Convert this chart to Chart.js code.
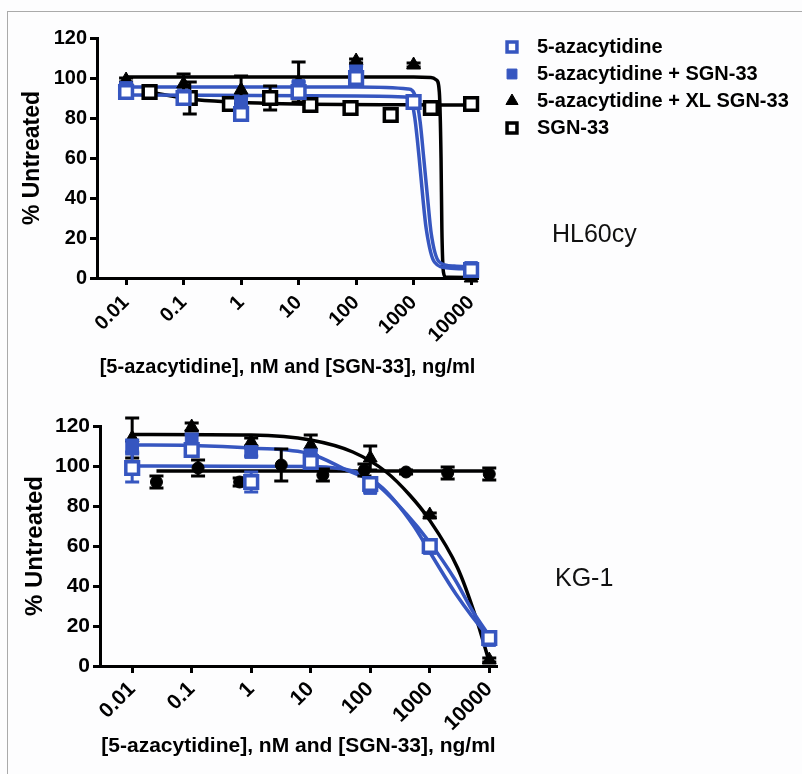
<!DOCTYPE html>
<html>
<head>
<meta charset="utf-8">
<script src="https://cdn.jsdelivr.net/npm/chart.js@4.4.1/dist/chart.umd.min.js"></script>
<style>
  html, body { margin: 0; padding: 0; background: #fdfdfe; }
  #page { position: relative; width: 802px; height: 774px; overflow: hidden; }
  #frame { position: absolute; left: 7px; top: 11px; width: 800px; height: 770px;
           border-top: 1px solid #aaa; border-left: 1px solid #aaa; }
  canvas { position: absolute; left: 0; }
  #hlChart { top: 12px; }
  #kgChart { top: 385px; }
</style>
</head>
<body>
<div id="page">
  <div id="frame"></div>
  <canvas id="hlChart" width="802" height="373"></canvas>
  <canvas id="kgChart" width="802" height="389"></canvas>
</div>
<script>
  const BLUE = '#3656c0';
  const FONT = '"Liberation Sans", Arial, Helvetica, sans-serif';

  // x axis (log) ticks
  const xTickValues = [0.01, 0.1, 1, 10, 100, 1000, 10000];
  const xTickLabels = ['0.01', '0.1', '1', '10', '100', '1000', '10000'];

  // doses
  const azaDose = [0.01, 0.1, 1, 10, 100, 1000, 10000];
  const sgnDose = [0.0256, 0.128, 0.64, 3.2, 16, 80, 400, 2000, 10000];

  // HL60cy measured points
  const hlAza = [93, 90, 82, 93, 100, 88, 4];
  const hlAzaErr = [2, 2, 2, 3, 3, 2, 1];
  const hlAzaSgn = [95, 91, 88, 96, 103, 88, 5];
  const hlAzaSgnErr = [2, 2, 2, 2, 3, 2, 1];
  const hlAzaXl = [99, 97, 94, 98, 108.5, 106.5, 0];
  const hlAzaXlErr = [1, 5, 7, 10, 1, 1, 0];
  const hlSgn = [93, 90, 87, 90, 86.5, 85, 81.5, 85, 87];
  const hlSgnErr = [1, 8, 2, 6, 2, 3, 3, 2, 1];

  // HL60cy fitted curves
  const hlFitAzaX = [0.01, 100, 700, 900, 1050, 1250, 1450, 1650, 2300, 4000, 10000];
  const hlFitAzaY = [91.5, 91, 90.5, 89, 80, 60, 40, 25, 8, 5, 4.5];
  const hlFitAzaSgnX = [0.01, 100, 800, 1100, 1300, 1500, 1750, 2030, 2800, 5100, 10000];
  const hlFitAzaSgnY = [95.5, 95.5, 94.5, 90, 78, 60, 40, 22, 8, 6, 5.5];
  const hlFitXlX = [0.01, 1000, 2000, 2500, 2800, 3000, 3100, 3300, 3600, 10000];
  const hlFitXlY = [100.5, 100.5, 100.3, 99, 93, 60, 25, 3, 0.5, 0.3];
  const hlFitSgnX = [0.0256, 0.128, 0.64, 3.2, 10000];
  const hlFitSgnY = [93, 89.5, 88, 87.3, 86.5];

  // KG-1 measured points
  const kgAza = [99, 108, 92, 102, 91, 60, 14];
  const kgAzaErr = [7, 3, 5, 3, 2, 2, 2];
  const kgAzaSgn = [110, 113, 107, 105, 89, 59, 13];
  const kgAzaSgnErr = [3, 3, 2, 3, 2, 2, 2];
  const kgAzaXl = [114, 119.5, 112, 110.5, 104, 75.5, 3];
  const kgAzaXlErr = [10, 2, 2, 5, 6, 1, 1];
  const kgSgn = [92, 99, 92, 100.5, 95.5, 98, 97, 96.5, 96];
  const kgSgnErr = [3, 4, 2, 8, 3, 3, 1, 3, 3];

  // KG-1 fitted curves
  const kgFitAzaX = [0.01, 10, 30, 66, 162, 525, 1000, 2750, 8900, 10000];
  const kgFitAzaY = [100, 99.8, 98.8, 96.3, 89, 70.5, 57, 36, 16, 14.5];
  const kgFitAzaSgnX = [0.01, 0.1, 1, 10, 40, 126, 405, 930, 2620, 5250, 10000];
  const kgFitAzaSgnY = [110.5, 110.3, 109, 106, 98, 91, 76, 63, 43.5, 27.5, 15];
  const kgFitXlX = [0.01, 1, 10, 51, 186, 460, 940, 2940, 6000, 10000];
  const kgFitXlY = [115.8, 115.5, 113, 107, 97, 85.5, 74, 49, 24, 2];
  const kgFitSgnX = [0.0256, 10000];
  const kgFitSgnY = [97.5, 97.5];

  function toPoints(xs, ys) {
    return xs.map((x, i) => ({ x: x, y: ys[i] }));
  }

  function pointSet(label, xs, ys, errs, style, inLegend) {
    return Object.assign({
      label: label,
      data: toPoints(xs, ys),
      errors: errs,
      showLine: false,
      clip: false,
      order: 1,
      inLegend: inLegend
    }, style);
  }

  function curveSet(xs, ys, color) {
    return {
      data: toPoints(xs, ys),
      showLine: true,
      pointRadius: 0,
      borderColor: color,
      borderWidth: 3.5,
      cubicInterpolationMode: 'monotone',
      clip: false,
      order: 2
    };
  }

  const openBlue = { pointStyle: 'rect', pointRadius: 9, borderWidth: 3.5, borderColor: BLUE, backgroundColor: '#fff', errColor: BLUE };
  const fillBlue = { pointStyle: 'rect', pointRadius: 9, borderWidth: 1, borderColor: BLUE, backgroundColor: BLUE, errColor: BLUE };
  const blackTri = { pointStyle: 'triangle', pointRadius: 8, borderWidth: 1, borderColor: '#000', backgroundColor: '#000', errColor: '#000' };
  const openBlack = { pointStyle: 'rect', pointRadius: 9, borderWidth: 3.5, borderColor: '#000', backgroundColor: '#fff', errColor: '#000' };
  const dotBlack = { pointStyle: 'circle', pointRadius: 6, borderWidth: 1, borderColor: '#000', backgroundColor: '#000', errColor: '#000' };

  // error bars drawn just before each point dataset
  const errorBarPlugin = {
    id: 'errorBars',
    beforeDatasetDraw(chart, args) {
      const ds = chart.data.datasets[args.index];
      if (!ds.errors) return;
      const xs = chart.scales.x, ys = chart.scales.y, ctx = chart.ctx;
      ctx.save();
      ctx.strokeStyle = ds.errColor;
      ctx.lineWidth = 3;
      ds.data.forEach((p, i) => {
        const e = ds.errors[i];
        if (!e) return;
        const x = xs.getPixelForValue(p.x);
        const top = ys.getPixelForValue(p.y + e);
        const bot = ys.getPixelForValue(p.y - e);
        ctx.beginPath();
        ctx.moveTo(x, top); ctx.lineTo(x, bot);
        ctx.moveTo(x - 7, top); ctx.lineTo(x + 7, top);
        ctx.moveTo(x - 7, bot); ctx.lineTo(x + 7, bot);
        ctx.stroke();
      });
      ctx.restore();
    }
  };

  const sideLegendPlugin = {
    id: 'sideLegend',
    afterDraw(chart, args, opts) {
      if (!opts.display) return;
      const ctx = chart.ctx;
      ctx.save();
      ctx.font = opts.font;
      ctx.textBaseline = 'middle';
      chart.data.datasets.filter(d => d.inLegend).forEach((ds, i) => {
        const y = opts.y + i * opts.rowGap;
        ctx.fillStyle = ds.backgroundColor;
        ctx.strokeStyle = ds.borderColor;
        ctx.lineWidth = ds.borderWidth;
        Chart.helpers.drawPoint(ctx, { pointStyle: ds.pointStyle, radius: opts.radius, borderWidth: Math.min(ds.borderWidth, 3), rotation: 0 }, opts.x, y);
        ctx.fillStyle = '#000';
        ctx.fillText(ds.label, opts.x + opts.textGap, y);
      });
      ctx.restore();
    }
  };

  const cellLabelPlugin = {
    id: 'cellLabel',
    afterDraw(chart, args, opts) {
      const ctx = chart.ctx;
      ctx.save();
      ctx.font = opts.font;
      ctx.fillStyle = '#111';
      ctx.textBaseline = 'alphabetic';
      ctx.fillText(opts.text, opts.x, opts.y);
      ctx.restore();
    }
  };

  function makeOptions(cfg) {
    return {
      responsive: false,
      animation: false,
      layout: { padding: { left: 0, right: cfg.padRight, top: cfg.padTop, bottom: 0 } },
      plugins: {
        legend: { display: false },
        tooltip: { enabled: false },
        sideLegend: cfg.legend,
        cellLabel: cfg.cell
      },
      scales: {
        x: {
          type: 'logarithmic',
          min: cfg.xMin,
          max: cfg.xMax,
          afterBuildTicks: s => { s.ticks = xTickValues.map(v => ({ value: v })); },
          afterFit: s => { s.height = cfg.xHeight; s.paddingLeft = 0; s.paddingRight = 0; },
          border: { display: true, color: '#000', width: 3 },
          grid: { drawOnChartArea: false, drawTicks: true, tickLength: 7, tickWidth: 3, tickColor: '#000' },
          ticks: {
            autoSkip: false,
            minRotation: 45,
            maxRotation: 45,
            padding: cfg.xTickPad,
            color: '#000',
            font: { family: FONT, size: cfg.tickSize, weight: 'bold' },
            callback: (v, i) => xTickLabels[i]
          },
          title: {
            display: true,
            text: '[5-azacytidine], nM and [SGN-33], ng/ml',
            color: '#000',
            font: { family: FONT, size: cfg.xTitleSize, weight: 'bold' },
            padding: { top: 0, bottom: cfg.xTitlePad }
          }
        },
        y: {
          min: 0,
          max: 120,
          afterFit: s => { s.width = cfg.yWidth; s.paddingTop = 0; s.paddingBottom = 0; },
          border: { display: true, color: '#000', width: 3 },
          grid: { drawOnChartArea: false, drawTicks: true, tickLength: 7, tickWidth: 3, tickColor: '#000' },
          ticks: {
            stepSize: 20,
            padding: 3,
            color: '#000',
            font: { family: FONT, size: cfg.tickSize, weight: 'bold' }
          },
          title: {
            display: true,
            text: '% Untreated',
            color: '#000',
            font: { family: FONT, size: cfg.yTitleSize, weight: 'bold' },
            padding: { top: cfg.yTitlePad, bottom: 0 }
          }
        }
      }
    };
  }

  new Chart(document.getElementById('hlChart'), {
    type: 'scatter',
    data: {
      datasets: [
        curveSet(hlFitAzaX, hlFitAzaY, BLUE),
        curveSet(hlFitAzaSgnX, hlFitAzaSgnY, BLUE),
        curveSet(hlFitSgnX, hlFitSgnY, '#000'),
        curveSet(hlFitXlX, hlFitXlY, '#000'),
        pointSet('5-azacytidine', azaDose, hlAza, hlAzaErr, openBlue, true),
        pointSet('5-azacytidine + SGN-33', azaDose, hlAzaSgn, hlAzaSgnErr, fillBlue, true),
        pointSet('5-azacytidine + XL SGN-33', azaDose, hlAzaXl, hlAzaXlErr, blackTri, true),
        pointSet('SGN-33', sgnDose, hlSgn, hlSgnErr, openBlack, true)
      ]
    },
    options: makeOptions({
      padRight: 324, padTop: 26, xHeight: 107, yWidth: 97,
      xMin: 0.00312, xMax: 13180,
      tickSize: 20, xTickPad: 6, xTitleSize: 20, yTitleSize: 23, xTitlePad: 6, yTitlePad: 19,
      legend: { display: true, x: 512, y: 35, rowGap: 27, radius: 7, textGap: 25, font: 'bold 20px ' + FONT },
      cell: { text: 'HL60cy', x: 552, y: 230, font: '25px ' + FONT }
    }),
    plugins: [errorBarPlugin, sideLegendPlugin, cellLabelPlugin]
  });

  new Chart(document.getElementById('kgChart'), {
    type: 'scatter',
    data: {
      datasets: [
        curveSet(kgFitAzaX, kgFitAzaY, BLUE),
        curveSet(kgFitAzaSgnX, kgFitAzaSgnY, BLUE),
        curveSet(kgFitSgnX, kgFitSgnY, '#000'),
        curveSet(kgFitXlX, kgFitXlY, '#000'),
        pointSet('5-azacytidine', azaDose, kgAza, kgAzaErr, openBlue, false),
        pointSet('5-azacytidine + SGN-33', azaDose, kgAzaSgn, kgAzaSgnErr, fillBlue, false),
        pointSet('5-azacytidine + XL SGN-33', azaDose, kgAzaXl, kgAzaXlErr, blackTri, false),
        pointSet('SGN-33', sgnDose, kgSgn, kgSgnErr, dotBlack, false)
      ]
    },
    options: makeOptions({
      padRight: 305, padTop: 41, xHeight: 108, yWidth: 100,
      xMin: 0.00288, xMax: 13490,
      tickSize: 21, xTickPad: 4, xTitleSize: 21, yTitleSize: 24, xTitlePad: 15, yTitlePad: 21,
      legend: { display: false },
      cell: { text: 'KG-1', x: 555, y: 201, font: '25px ' + FONT }
    }),
    plugins: [errorBarPlugin, sideLegendPlugin, cellLabelPlugin]
  });
</script>
</body>
</html>
